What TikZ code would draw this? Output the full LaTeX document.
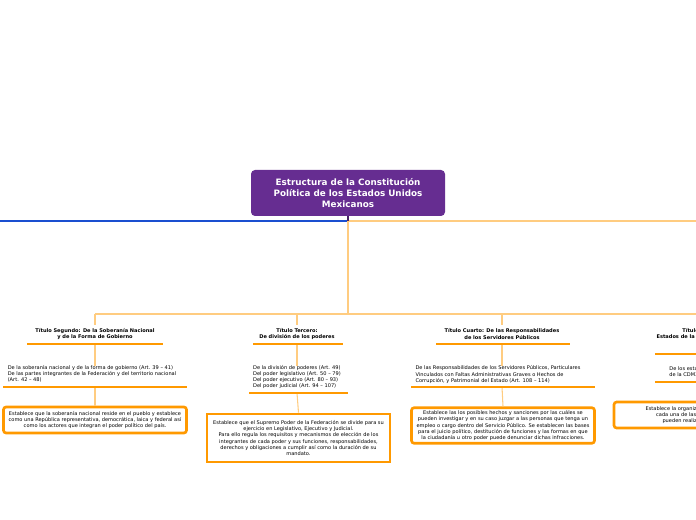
\documentclass[tikz,border=0pt]{standalone}
\usepackage{fontspec}
\setmainfont{DejaVu Sans}
\definecolor{purp}{HTML}{662D91}
\definecolor{org}{HTML}{FF9900}
\definecolor{lorg}{HTML}{FFCC80}
\definecolor{blu}{HTML}{1A4FD0}
\begin{document}
\begin{tikzpicture}[x=0.75pt,y=-0.75pt,
 title/.style={font=\bfseries\fontsize{3.8pt}{4.8pt}\selectfont,align=center,inner sep=0},
 body/.style={font=\fontsize{3.8pt}{4.7pt}\selectfont,align=left,inner sep=0},
 boxn/.style={draw=org,line width=2pt,rounded corners=2pt,fill=white,font=\fontsize{3.8pt}{4.7pt}\selectfont,align=center,inner sep=2pt},
 uline/.style={draw=org,line width=2pt},
 stem/.style={draw=lorg,line width=0.8pt}]
\useasboundingbox (0,0) rectangle (696,520);
\clip (0,0) rectangle (696,520);
% connectors
\coordinate (j) at (348,221);
\coordinate (h) at (348,314);
\draw[blu,line width=0.8pt] (0,221) -- (j);
\draw[lorg,line width=0.8pt] (j) -- (696,221);
\draw[stem] (j) -- (h);
\draw[stem] (95,314) -- (760,314);
\node[fill=purp,rounded corners=3pt,minimum width=194*0.75pt,align=center,text=white,font=\bfseries\fontsize{6.6pt}{8.3pt}\selectfont,minimum height=46*0.75pt] (root) at (348,193) {Estructura de la Constitución\\Política de los Estados Unidos\\Mexicanos};
\draw[draw=purp!70!black,line width=0.8pt] (root.south) -- (j);
% column 1
\node[title] (t1) at (95,334) {Título Segundo: De la Soberanía Nacional\\y de la Forma de Gobierno};
\node[body] (b1) at (92,374) {De la soberanía nacional y de la forma de gobierno (Art. 39 – 41)\\De las partes integrantes de la Federación y del territorio nacional\\(Art. 42 – 48)};
\node[boxn,minimum width=183*0.75pt,minimum height=26*0.75pt] (c1) at (95,420) {Establece que la soberanía nacional reside en el pueblo y establece\\como una República representativa, democrática, laica y federal  así\\como los actores que integran el poder político del país.};
\draw[stem] (95,314) -- (95,325); \draw[stem] (95,344) -- (95,366); \draw[stem] (95,387) -- (c1.north);
\draw[uline] (27,344) -- (163,344); \draw[uline] (3,387) -- (187,387);
% column 2
\node[title] (t2) at (297,334) {Título Tercero:\\De división de los poderes};
\node[body] (b2) at (297,377) {De la división de poderes (Art. 49)\\Del poder legislativo (Art. 50 – 79)\\Del poder ejecutivo (Art. 80 – 93)\\Del poder judicial (Art. 94 – 107)};
\node[boxn,rounded corners=0pt,minimum width=183*0.75pt,minimum height=48*0.75pt] (c2) at (298.5,438) {Establece que el Supremo Poder de la Federación se divide para su\\ejercicio en  Legislativo, Ejecutivo y Judicial.\\Para ello regula los requisitos y mecanismos de elección de los\\integrantes de cada poder y sus funciones, responsabilidades,\\derechos y obligaciones a cumplir así como la duración de su\\mandato.};
\draw[stem] (297,314) -- (297,325); \draw[stem] (297,344) -- (297,366); \draw[stem] (297,393) -- (c2.north);
\draw[uline] (253,344) -- (343,344); \draw[uline] (249,393) -- (348,393);
% column 3
\node[title] (t3) at (502,334) {Título Cuarto: De las Responsabilidades\\de los Servidores Públicos};
\node[body] (b3) at (498,374.5) {De las Responsabilidades de los Servidores Públicos, Particulares\\Vinculados con Faltas Administrativas Graves o Hechos de\\Corrupción, y Patrimonial del Estado (Art. 108 – 114)};
\node[boxn,minimum width=183*0.75pt,minimum height=35*0.75pt] (c3) at (503,425.5) {Establece las los posibles hechos y sanciones por las cuáles se\\pueden investigar y en su caso juzgar a las personas que tenga un\\empleo o cargo dentro del Servicio Público. Se establecen las bases\\para el juicio político, destitución de funciones y  las formas en que\\la ciudadanía u otro poder puede denunciar dichas infracciones.};
\draw[stem] (502,314) -- (502,325); \draw[stem] (502,344) -- (502,366); \draw[stem] (502,387) -- (c3.north);
\draw[uline] (436,344) -- (570,344); \draw[uline] (411,387) -- (595,387);
% column 4 (cut off at the edge, as in the reference)
\node[title] (t4) at (712,334) {Título Quinto: De los\\Estados de la Federación y de la CDMX};
\node[body] (b4) at (712,372) {De los estados de la Federación y\\de la CDMX (Art. 115 – 122)};
\node[boxn,minimum width=200*0.75pt,minimum height=26*0.75pt] (c4) at (714,415) {Establece la organización, derechos y obligaciones de\\cada una de las entidades federativas, lo que\\pueden realizar y no durante su gestión.};
\draw[stem] (712,314) -- (712,325); \draw[stem] (712,354) -- (712,366); \draw[stem] (712,382) -- (c4.north);
\draw[uline] (655,354) -- (770,354); \draw[uline] (655,382) -- (770,382);
\end{tikzpicture}
\end{document}
